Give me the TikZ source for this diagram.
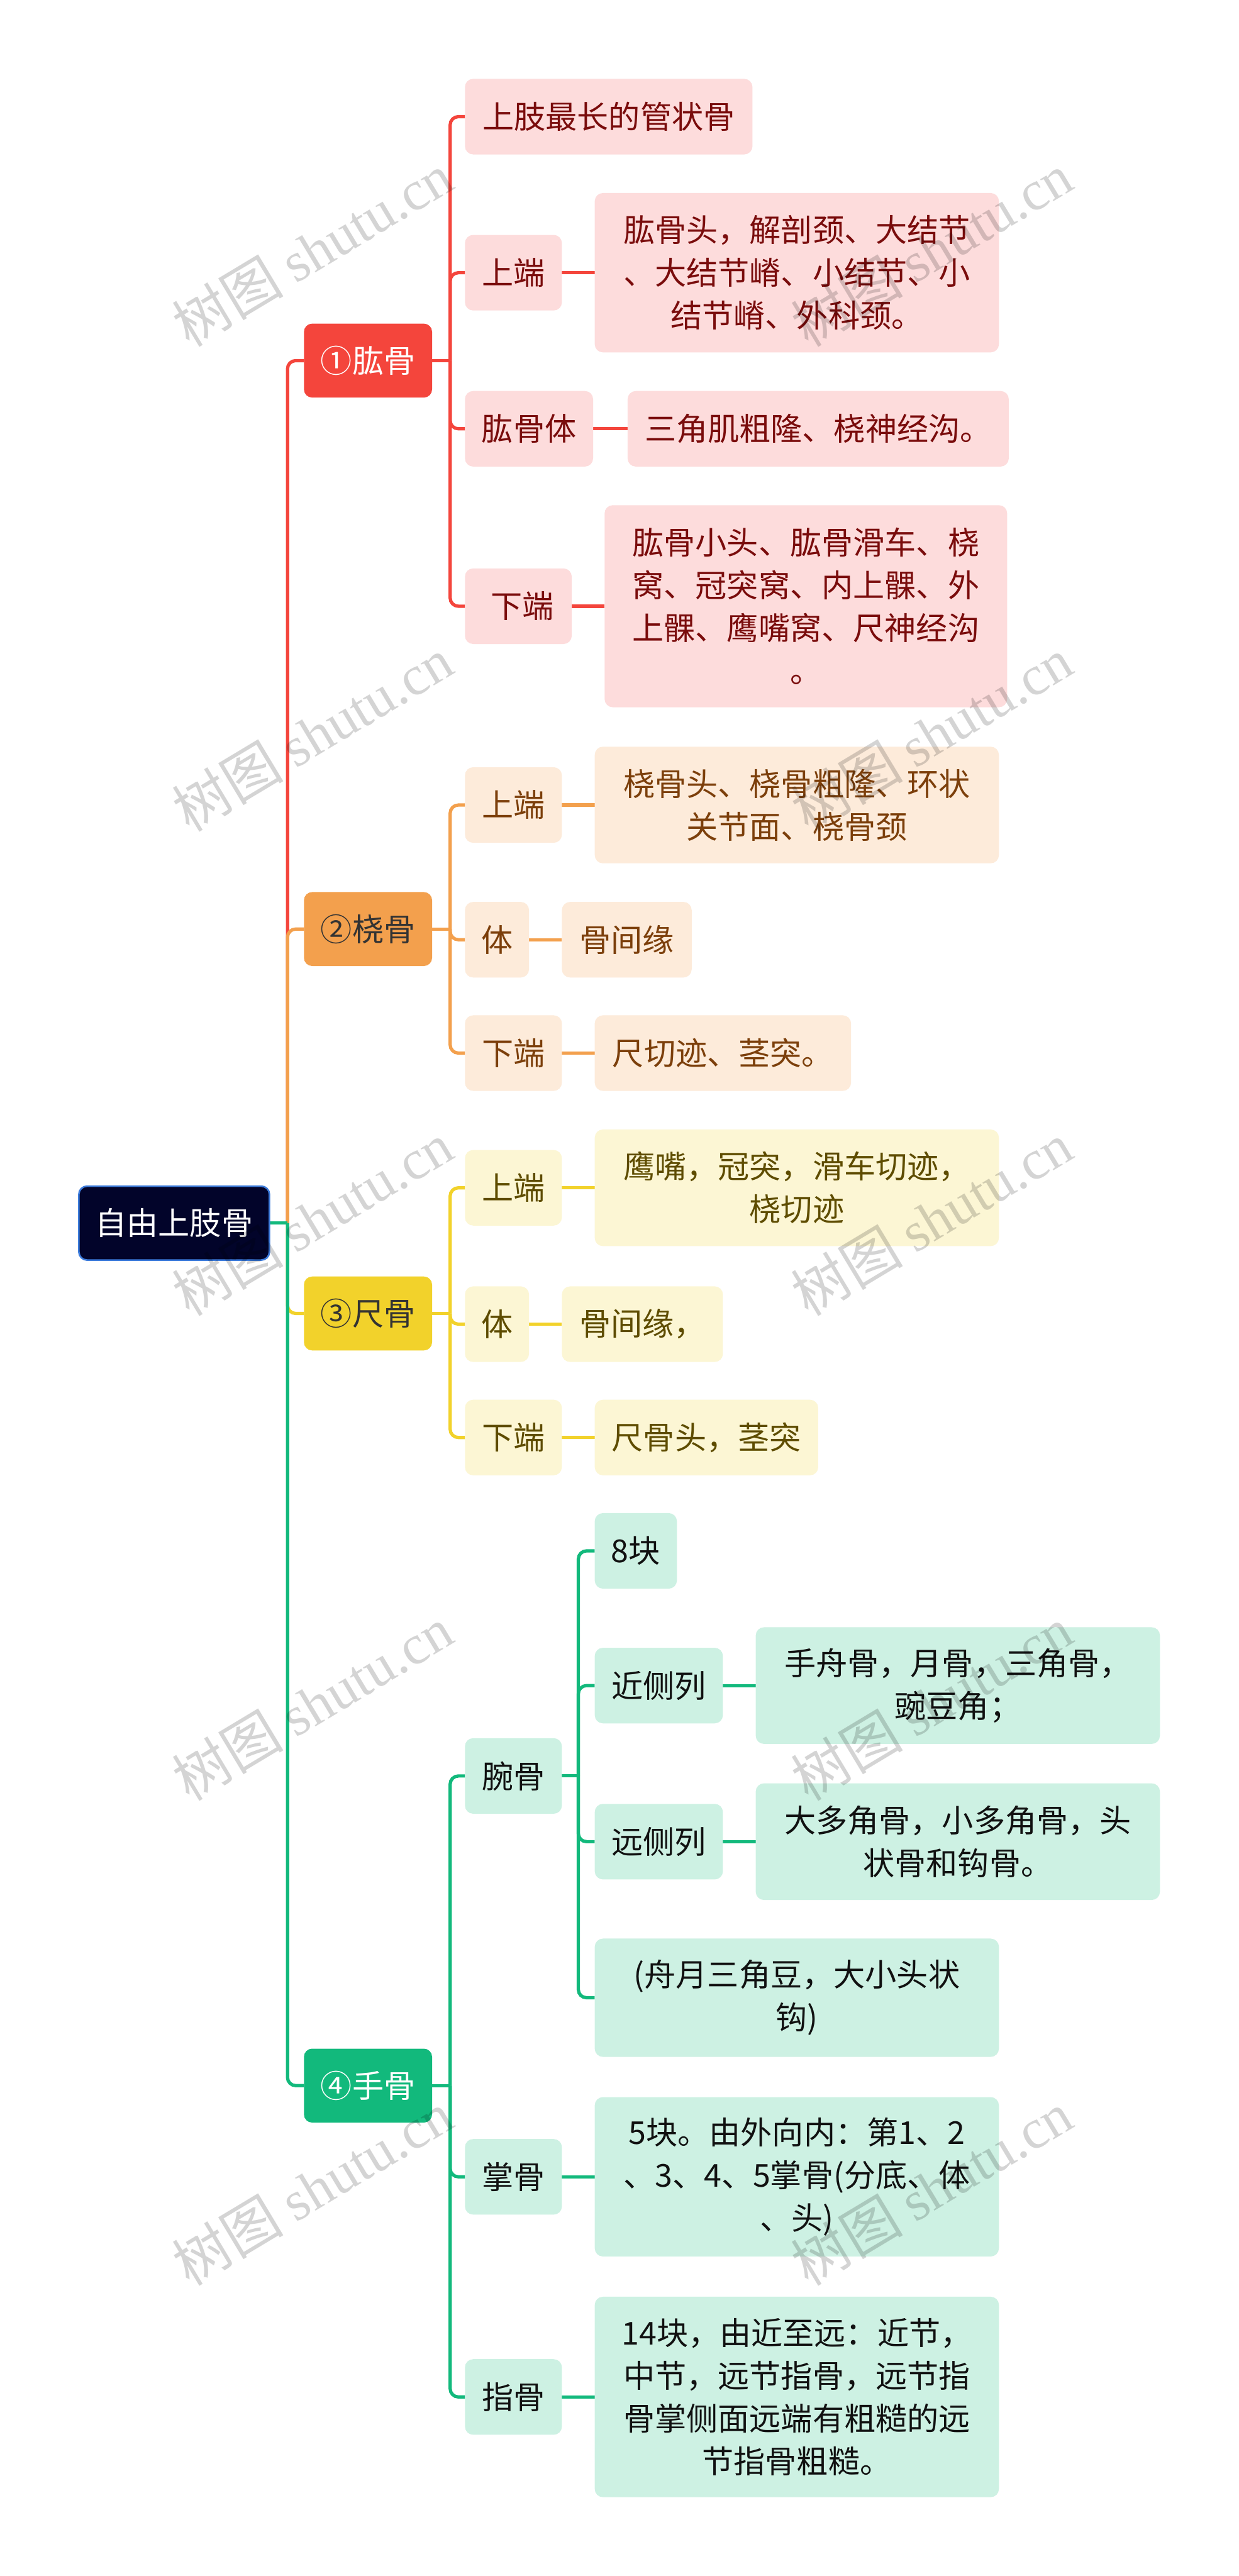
\documentclass[tikz,border=0pt]{standalone}
\usepackage{fontspec}
\setmainfont{Noto Sans CJK SC}
\newfontfamily\wmlatin{Liberation Serif}
\pgfdeclarelayer{bg}
\pgfsetlayers{bg,main}
\definecolor{rootf}{HTML}{02042A}
\definecolor{rootb}{HTML}{3C7BDB}
\definecolor{rd}{HTML}{F4453C}
\definecolor{rl}{HTML}{FDDCDC}
\definecolor{rt}{HTML}{7A0C0C}
\definecolor{od}{HTML}{F3A04D}
\definecolor{ol}{HTML}{FDEBDA}
\definecolor{ot}{HTML}{7C3F0B}
\definecolor{yd}{HTML}{F2D22B}
\definecolor{yl}{HTML}{FCF6D4}
\definecolor{yt}{HTML}{5E4C00}
\definecolor{gd}{HTML}{12B97C}
\definecolor{gl}{HTML}{CDF1E3}
\definecolor{gt}{HTML}{111111}
\definecolor{dk}{HTML}{333333}
\begin{document}
\begin{tikzpicture}[x=1pt,y=-1pt,
  every node/.style={inner sep=0pt, outer sep=0pt, align=center, font=\fontsize{19.2}{26}\selectfont},
  bx/.style={rounded corners=5pt, minimum height=46pt},
  rbox/.style={bx, fill=rl, text=rt},
  obox/.style={bx, fill=ol, text=ot},
  ybox/.style={bx, fill=yl, text=yt},
  gbox/.style={bx, fill=gl, text=gt},
  lone/.style={rounded corners=5pt, minimum width=78pt, minimum height=45pt},
  cr/.style={draw=rd, line width=2pt, rounded corners=5pt},
  co/.style={draw=od, line width=2pt, rounded corners=5pt},
  cy/.style={draw=yd, line width=2pt, rounded corners=5pt},
  cg/.style={draw=gd, line width=2pt, rounded corners=5pt},
  wm/.style={rotate=31, text=black, opacity=0.17, font=\fontsize{34}{34}\selectfont}]
\useasboundingbox (0,0) rectangle (754,1568);
\begin{pgfonlayer}{bg}
\fill[white] (0,0) rectangle (754,1568);
\end{pgfonlayer}

% ---------- nodes ----------
\node[rounded corners=5pt, fill=rootf, draw=rootb, line width=1pt, text=white, minimum width=116pt, minimum height=45pt] (root) at (106,744.5) {自由上肢骨};

\node[lone, fill=rd, text=white] (n1) at (224,219.5) {①肱骨};
\node[lone, fill=od, text=dk] (n2) at (224,565.5) {②桡骨};
\node[lone, fill=yd, text=dk] (n3) at (224,799.5) {③尺骨};
\node[lone, fill=gd, text=white] (n4) at (224,1269.5) {④手骨};

% branch 1
\node[rbox, minimum width=175pt] (a1) at (370.5,71) {上肢最长的管状骨};
\node[rbox, minimum width=59pt] (a2) at (312.5,166) {上端};
\node[rbox, minimum width=78pt] (a3) at (322,261) {肱骨体};
\node[rbox, minimum width=65pt] (a4) at (315.5,369) {\hspace*{5pt}下端};
\node[rbox, minimum width=246pt, minimum height=97pt] (b2) at (485,166) {肱骨头，解剖颈、大结节\\、大结节嵴、小结节、小\\结节嵴、外科颈。};
\node[rbox, minimum width=232pt] (b3) at (498,261) {三角肌粗隆、桡神经沟。};
\node[rbox, minimum width=245pt, minimum height=123pt] (b4) at (490.5,369) {肱骨小头、肱骨滑车、桡\\窝、冠突窝、内上髁、外\\上髁、鹰嘴窝、尺神经沟\\。};

% branch 2
\node[obox, minimum width=59pt] (c1) at (312.5,490) {上端};
\node[obox, minimum width=39pt] (c2) at (302.5,572) {体};
\node[obox, minimum width=59pt] (c3) at (312.5,641) {下端};
\node[obox, minimum width=246pt, minimum height=71pt] (d1) at (485,490) {桡骨头、桡骨粗隆、环状\\关节面、桡骨颈};
\node[obox, minimum width=79pt] (d2) at (381.5,572) {骨间缘};
\node[obox, minimum width=156pt] (d3) at (440,641) {尺切迹、茎突。};

% branch 3
\node[ybox, minimum width=59pt] (e1) at (312.5,723) {上端};
\node[ybox, minimum width=39pt] (e2) at (302.5,806) {体};
\node[ybox, minimum width=59pt] (e3) at (312.5,875) {下端};
\node[ybox, minimum width=246pt, minimum height=71pt] (f1) at (485,723) {鹰嘴，冠突，滑车切迹，\\桡切迹};
\node[ybox, minimum width=98pt] (f2) at (391,806) {骨间缘，};
\node[ybox, minimum width=136pt] (f3) at (430,875) {尺骨头，茎突};

% branch 4
\node[gbox, minimum width=59pt] (g1) at (312.5,1081) {腕骨};
\node[gbox, minimum width=59pt] (g2) at (312.5,1325) {掌骨};
\node[gbox, minimum width=59pt] (g3) at (312.5,1459) {指骨};
\node[gbox, minimum width=50pt] (h1) at (387,944) {8块};
\node[gbox, minimum width=78pt] (h2) at (401,1026) {近侧列};
\node[gbox, minimum width=78pt] (h3) at (401,1121) {远侧列};
\node[gbox, minimum width=246pt, minimum height=72pt] (h4) at (485,1216) {(舟月三角豆，大小头状\\钩)};
\node[gbox, minimum width=246pt, minimum height=71pt] (i2) at (583,1026) {手舟骨，月骨，三角骨，\\豌豆角；};
\node[gbox, minimum width=246pt, minimum height=71pt] (i3) at (583,1121) {大多角骨，小多角骨，头\\状骨和钩骨。};
\node[gbox, minimum width=246pt, minimum height=97pt] (j2) at (485,1325) {5块。由外向内：第1、2\\、3、4、5掌骨(分底、体\\、头)};
\node[gbox, minimum width=246pt, minimum height=122pt] (j3) at (485,1459) {14块，由近至远：近节，\\中节，远节指骨，远节指\\骨掌侧面远端有粗糙的远\\节指骨粗糙。};

% ---------- junction coordinates ----------
\coordinate (s0) at (175,744.5);
\coordinate (s1) at (274,219.5);
\coordinate (s2) at (274,565.5);
\coordinate (s3) at (274,799.5);
\coordinate (s4) at (274,1269.5);
\coordinate (s5) at (352,1081);

% ---------- connectors (behind nodes) ----------
\begin{pgfonlayer}{bg}
\draw[cr] (root.east) -- (s0);
\draw[cr] (s0) |- (n1.west);
\draw[co] (s0) |- (n2.west);
\draw[cy] (s0) |- (n3.west);
\draw[cg] (s0) |- (n4.west);
\draw[cg] (root.east) -- (s0);

\draw[cr] (n1.east) -- (s1);
\draw[cr] (s1) |- (a1.west);
\draw[cr] (s1) |- (a2.west);
\draw[cr] (s1) |- (a3.west);
\draw[cr] (s1) |- (a4.west);
\draw[cr] (a2.east) -- (b2.west);
\draw[cr] (a3.east) -- (b3.west);
\draw[cr] (a4.east) -- (b4.west);

\draw[co] (n2.east) -- (s2);
\draw[co] (s2) |- (c1.west);
\draw[co] (s2) |- (c2.west);
\draw[co] (s2) |- (c3.west);
\draw[co] (c1.east) -- (d1.west);
\draw[co] (c2.east) -- (d2.west);
\draw[co] (c3.east) -- (d3.west);

\draw[cy] (n3.east) -- (s3);
\draw[cy] (s3) |- (e1.west);
\draw[cy] (s3) |- (e2.west);
\draw[cy] (s3) |- (e3.west);
\draw[cy] (e1.east) -- (f1.west);
\draw[cy] (e2.east) -- (f2.west);
\draw[cy] (e3.east) -- (f3.west);

\draw[cg] (n4.east) -- (s4);
\draw[cg] (s4) |- (g1.west);
\draw[cg] (s4) |- (g2.west);
\draw[cg] (s4) |- (g3.west);
\draw[cg] (g1.east) -- (s5);
\draw[cg] (s5) |- (h1.west);
\draw[cg] (s5) |- (h2.west);
\draw[cg] (s5) |- (h3.west);
\draw[cg] (s5) |- (h4.west);
\draw[cg] (h2.east) -- (i2.west);
\draw[cg] (h3.east) -- (i3.west);
\draw[cg] (g2.east) -- (j2.west);
\draw[cg] (g3.east) -- (j3.west);
\end{pgfonlayer}

% ---------- watermarks ----------
\foreach \yy [count=\k] in {152,447,742,1037,1332} {
  \node[wm] (wl\k) at (190,\yy) {树图 {\wmlatin shutu.cn}};
  \node[wm] (wr\k) at (567,\yy) {树图 {\wmlatin shutu.cn}};
}
\end{tikzpicture}
\end{document}
